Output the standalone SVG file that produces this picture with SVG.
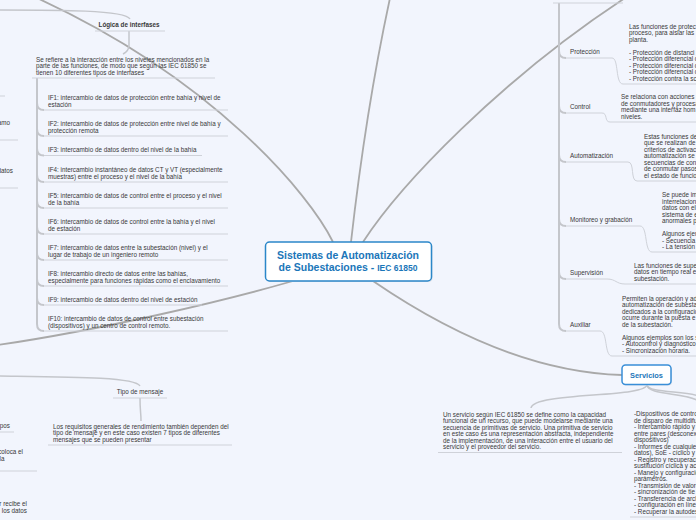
<svg xmlns="http://www.w3.org/2000/svg" width="696" height="520" viewBox="0 0 696 520">
<style>
.t{font-family:"Liberation Sans",Arial,sans-serif;font-size:6.3px;fill:#383838}
.b{font-weight:bold}
.ul{stroke:#cfd2d9;stroke-width:1;fill:none}
.cn{stroke:#c4c6cb;stroke-width:1.5;fill:none}
.vt{stroke:#c4c6cb;stroke-width:2;fill:none}
.main{stroke:#a9a9a9;stroke-width:1.8;fill:none}
.ct{font-family:"Liberation Sans",Arial,sans-serif;font-weight:bold;fill:#1b76b9}
.box{fill:#ffffff;stroke:#2b87c9;stroke-width:1.5}
</style>
<rect width="696" height="520" fill="#f2f5fd"/>
<g id="connectors">
<path class="main" d="M333 242 C310 195 215 80 37 -2"/>
<path class="main" d="M351 242 C358 180 368 100 390 -2"/>
<path class="main" d="M363 242 C400 185 500 80 625 -2"/>
<path class="main" d="M293 281 C220 302 100 330 -2 345"/>
<path class="main" d="M373 281 C430 320 520 372 622 375"/>
<path class="cn" d="M-2 10 C60 10 125 10 130 19"/>
<path class="cn" d="M129 31 L129 45 Q129 51 123 54"/>
<path class="vt" d="M37 78 L37 103 Q37 110 44 110"/>
<path class="vt" d="M37 78 L37 129 Q37 136 44 136"/>
<path class="vt" d="M37 78 L37 148.5 Q37 155.5 44 155.5"/>
<path class="vt" d="M37 78 L37 175 Q37 182 44 182"/>
<path class="vt" d="M37 78 L37 201 Q37 208 44 208"/>
<path class="vt" d="M37 78 L37 227 Q37 234 44 234"/>
<path class="vt" d="M37 78 L37 253 Q37 260 44 260"/>
<path class="vt" d="M37 78 L37 279 Q37 286 44 286"/>
<path class="vt" d="M37 78 L37 298 Q37 305 44 305"/>
<path class="vt" d="M37 78 L37 324 Q37 331 44 331"/>
<path class="vt" d="M559 3 L559 51 Q559 58 566 58"/>
<path class="vt" d="M559 3 L559 106 Q559 113 566 113"/>
<path class="vt" d="M559 3 L559 155 Q559 162 566 162"/>
<path class="vt" d="M559 3 L559 219 Q559 226 566 226"/>
<path class="vt" d="M559 3 L559 272 Q559 279 566 279"/>
<path class="vt" d="M559 3 L559 324 Q559 331 566 331"/>
<path class="ul" d="M612 58 C619 58 615 84 623 84"/>
<path class="ul" d="M602 113 C608 113 604 122 610 122"/>
<path class="ul" d="M628 162 C635 162 630 181 637 181"/>
<path class="ul" d="M640 226 C648 226 644 252 652 252"/>
<path class="ul" d="M607 279 C616 279 616 284 625 284"/>
<path class="ul" d="M600 331 C608 331 604 356 612 356"/>
<path class="cn" d="M647 384.5 C647 398 533 392 531 408"/>
<path class="cn" d="M647 384.5 C647 396 688 392 700 402"/>
<path class="cn" d="M647 384.5 C647 394 690 390 700 397"/>
<path class="cn" d="M-2 376 C70 377 135 377 140 386"/>
<path class="cn" d="M140 398 C140 412 141 412 141 421"/>
</g>
<g id="left-partials">
<path class="ul" d="M0 96 H5"/>
<text class="t" x="10" y="125" text-anchor="end">amo</text>
<path class="ul" d="M0 140 H18"/>
<text class="t" x="13" y="173" text-anchor="end">datos</text>
<path class="ul" d="M0 188 H18"/>
<text class="t" x="10" y="428" text-anchor="end">pos</text>
<path class="ul" d="M0 432 H14"/>
<text class="t" x="23" y="454" text-anchor="end">coloca el</text>
<text class="t" x="4.5" y="460.5" text-anchor="end">la</text>
<path class="ul" d="M0 471 H37"/>
<text class="t" x="27" y="506" text-anchor="end">r recibe el</text>
<text class="t" x="27" y="512.5" text-anchor="end">los datos</text>
</g>
<g id="logica">
<text class="t b" x="129" y="27" text-anchor="middle">Lógica de interfases</text>
<path class="ul" d="M95 31 H165"/>
</g>
<g id="se-refiere">
<text class="t" x="36" y="61.5">Se refiere a la interacción entre los niveles mencionados en la</text>
<text class="t" x="36" y="68">parte de las funciones, de modo que según las IEC 61850 se</text>
<text class="t" x="36" y="74.5">tienen 10 diferentes tipos de interfases</text>
<path class="ul" d="M32 78 H215"/>
</g>
<g id="if1"><text class="t" x="48" y="100">IF1: intercambio de datos de protección entre bahía y nivel de</text><text class="t" x="48" y="106.5">estación</text><path class="ul" d="M44 110 H228"/></g>
<g id="if2"><text class="t" x="48" y="126">IF2: intercambio de datos de protección entre nivel de bahía y</text><text class="t" x="48" y="132.5">protección remota</text><path class="ul" d="M44 136 H228"/></g>
<g id="if3"><text class="t" x="48" y="152">IF3: intercambio de datos dentro del nivel de la bahía</text><path class="ul" d="M44 155.5 H202"/></g>
<g id="if4"><text class="t" x="48" y="172">IF4: intercambio instantáneo de datos CT y VT (especialmente</text><text class="t" x="48" y="178.5">muestras) entre el proceso y el nivel de la bahía</text><path class="ul" d="M44 182 H228"/></g>
<g id="if5"><text class="t" x="48" y="198">IF5: intercambio de datos de control entre el proceso y el nivel</text><text class="t" x="48" y="204.5">de la bahía</text><path class="ul" d="M44 208 H228"/></g>
<g id="if6"><text class="t" x="48" y="224">IF6: intercambio de datos de control entre la bahía y el nivel</text><text class="t" x="48" y="230.5">de estación</text><path class="ul" d="M44 234 H228"/></g>
<g id="if7"><text class="t" x="48" y="250">IF7: intercambio de datos entre la subestación (nivel) y el</text><text class="t" x="48" y="256.5">lugar de trabajo de un ingeniero remoto</text><path class="ul" d="M44 260 H228"/></g>
<g id="if8"><text class="t" x="48" y="276">IF8: intercambio directo de datos entre las bahías,</text><text class="t" x="48" y="282.5">especialmente para funciones rápidas como el enclavamiento</text><path class="ul" d="M44 286 H228"/></g>
<g id="if9"><text class="t" x="48" y="301.5">IF9: intercambio de datos dentro del nivel de estación</text><path class="ul" d="M44 305 H202"/></g>
<g id="if10"><text class="t" x="48" y="321">IF10: intercambio de datos de control entre subestación</text><text class="t" x="48" y="327.5">(dispositivos) y un centro de control remoto.</text><path class="ul" d="M44 331 H228"/></g>
<g id="tipo-mensaje">
<text class="t" x="140" y="394" text-anchor="middle">Tipo de mensaje</text>
<path class="ul" d="M113 398 H167"/>
</g>
<g id="requisitos">
<text class="t" x="53" y="428.5">Los requisitos generales de rendimiento también dependen del</text>
<text class="t" x="53" y="435">tipo de mensaje y en este caso existen 7 tipos de diferentes</text>
<text class="t" x="53" y="441.5">mensajes que se pueden presentar</text>
<path class="ul" d="M48 445 H232"/>
</g>
<g id="central">
<rect x="266.5" y="243" width="166" height="39" rx="4" fill="#dde2ea"/>
<rect class="box" x="265.5" y="242" width="166" height="39" rx="4"/>
<text class="ct" x="348" y="258.5" font-size="10.5" text-anchor="middle">Sistemas de Automatización</text>
<text class="ct" x="348" y="271" font-size="10.5" text-anchor="middle">de Subestaciones - <tspan font-size="8.5">IEC 61850</tspan></text>
</g>
<g id="funciones-parent"><path class="ul" d="M553 3 H623"/></g>
<g id="proteccion">
<text class="t" x="570" y="54">Protección</text>
<path class="ul" d="M566 58 H612"/>
<text class="t" x="629" y="28.5">Las funciones de protec</text>
<text class="t" x="629" y="35">proceso, para aislar las</text>
<text class="t" x="629" y="41.5">planta.</text>
<text class="t" x="629" y="54.5">- Protección de distanci</text>
<text class="t" x="629" y="61">- Protección diferencial d</text>
<text class="t" x="629" y="67.5">- Protección diferencial d</text>
<text class="t" x="629" y="74">- Protección diferencial d</text>
<text class="t" x="629" y="80.5">- Protección contra la sc</text>
<path class="ul" d="M623 84 H696"/>
</g>
<g id="control">
<text class="t" x="570" y="109">Control</text>
<path class="ul" d="M566 113 H602"/>
<text class="t" x="621" y="99">Se relaciona con acciones d</text>
<text class="t" x="621" y="105.5">de conmutadores y procesa</text>
<text class="t" x="621" y="112">mediante una interfaz hom</text>
<text class="t" x="621" y="118.5">niveles.</text>
<path class="ul" d="M610 122 H696"/>
</g>
<g id="automatizacion">
<text class="t" x="570" y="158">Automatización</text>
<path class="ul" d="M566 162 H628"/>
<text class="t" x="644" y="138.5">Estas funciones de</text>
<text class="t" x="644" y="145">que se realizan de</text>
<text class="t" x="644" y="151.5">criterios de activac</text>
<text class="t" x="644" y="158">automatización se</text>
<text class="t" x="644" y="164.5">secuencias de conm</text>
<text class="t" x="644" y="171">de conmutar pasos</text>
<text class="t" x="644" y="177.5">el estado de funcio</text>
<path class="ul" d="M637 181 H696"/>
</g>
<g id="monitoreo">
<text class="t" x="570" y="222">Monitoreo y grabación</text>
<path class="ul" d="M566 226 H640"/>
<text class="t" x="662" y="197">Se puede im</text>
<text class="t" x="662" y="203.5">interrelacion</text>
<text class="t" x="662" y="210">datos con el</text>
<text class="t" x="662" y="216.5">sistema de e</text>
<text class="t" x="662" y="223">anormales p</text>
<text class="t" x="662" y="236">Algunos ejem</text>
<text class="t" x="662" y="242.5">- Secuencia</text>
<text class="t" x="662" y="249">- La tensión</text>
<path class="ul" d="M652 252 H696"/>
</g>
<g id="supervision">
<text class="t" x="570" y="275">Supervisión</text>
<path class="ul" d="M566 279 H607"/>
<text class="t" x="634" y="267.5">Las funciones de super</text>
<text class="t" x="634" y="274">datos en tiempo real e</text>
<text class="t" x="634" y="280.5">subestación.</text>
<path class="ul" d="M625 284 H696"/>
</g>
<g id="auxiliar">
<text class="t" x="570" y="327">Auxiliar</text>
<path class="ul" d="M566 331 H600"/>
<text class="t" x="622" y="300.5">Permiten la operación y ad</text>
<text class="t" x="622" y="307">automatización de subesta</text>
<text class="t" x="622" y="313.5">dedicados a la configuració</text>
<text class="t" x="622" y="320">ocurre durante la puesta e</text>
<text class="t" x="622" y="326.5">de la subestación.</text>
<text class="t" x="622" y="339.5">Algunos ejemplos son los s</text>
<text class="t" x="622" y="346">- Autocontrol y diagnóstico</text>
<text class="t" x="622" y="352.5">- Sincronización horaria.</text>
<path class="ul" d="M612 356 H696"/>
</g>
<g id="servicios">
<rect x="623" y="366" width="49" height="19.5" rx="3.5" fill="#dde2ea"/>
<rect x="622" y="365" width="49" height="19.5" rx="3.5" fill="#ffffff" stroke="#3a8fd8" stroke-width="1.5"/>
<text class="ct" x="646.5" y="377.5" font-size="7.4" text-anchor="middle">Servicios</text>
</g>
<g id="servicio-def">
<text class="t" x="443" y="416.5">Un servicio según IEC 61850 se define como la capacidad</text>
<text class="t" x="443" y="423">funcional de un recurso, que puede modelarse mediante una</text>
<text class="t" x="443" y="429.5">secuencia de primitivas de servicio. Una primitiva de servicio</text>
<text class="t" x="443" y="436">en este caso es una representación abstracta, independiente</text>
<text class="t" x="443" y="442.5">de la implementación, de una interacción entre el usuario del</text>
<text class="t" x="443" y="449">servicio y el proveedor del servicio.</text>
<path class="ul" d="M438 452.5 H622"/>
</g>
<g id="servicio-lista">
<text class="t" x="634" y="416">-Dispositivos de contro</text>
<text class="t" x="634" y="422.5">de disparo de multidifu</text>
<text class="t" x="634" y="429">- Intercambio rápido y</text>
<text class="t" x="634" y="435.5">entre pares (desconex</text>
<text class="t" x="634" y="442">dispositivos)</text>
<text class="t" x="634" y="448.5">- Informes de cualquie</text>
<text class="t" x="634" y="455">datos), SoE - cíclico y</text>
<text class="t" x="634" y="461.5">- Registro y recuperaci</text>
<text class="t" x="634" y="468">sustitución cíclica y act</text>
<text class="t" x="634" y="474.5">- Manejo y configuració</text>
<text class="t" x="634" y="481">parámetros.</text>
<text class="t" x="634" y="487.5">- Transmisión de valore</text>
<text class="t" x="634" y="494">- sincronización de tie</text>
<text class="t" x="634" y="500.5">- Transferencia de arch</text>
<text class="t" x="634" y="507">- configuración en líne</text>
<text class="t" x="634" y="513.5">- Recuperar la autodes</text>
<path class="ul" d="M630 517 H696"/>
</g>
</svg>
